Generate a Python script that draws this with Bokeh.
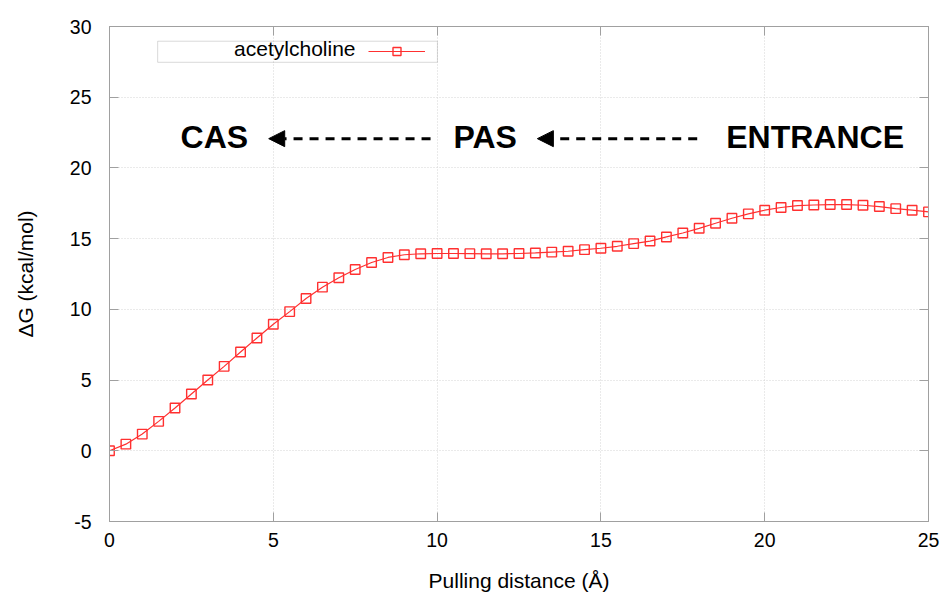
from bokeh.plotting import figure
from bokeh.models import (Range1d, LinearAxis, SingleIntervalTicker, CustomJSTickFormatter,
                          Label, Arrow, NormalHead, BoxAnnotation, Legend, LegendItem)
from bokeh.embed import file_html
from bokeh.resources import INLINE

# ---- data ----
distance = [0, 0.5, 1, 1.5, 2, 2.5, 3, 3.5, 4, 4.5, 5, 5.5, 6, 6.5, 7, 7.5, 8, 8.5, 9, 9.5,
            10, 10.5, 11, 11.5, 12, 12.5, 13, 13.5, 14, 14.5, 15, 15.5, 16, 16.5, 17, 17.5,
            18, 18.5, 19, 19.5, 20, 20.5, 21, 21.5, 22, 22.5, 23, 23.5, 24, 24.5, 25]
dG = [0.00, 0.47, 1.18, 2.08, 3.02, 4.01, 5.00, 5.97, 6.99, 7.98, 8.95, 9.84, 10.77, 11.57,
      12.23, 12.82, 13.31, 13.67, 13.86, 13.93, 13.95, 13.95, 13.94, 13.93, 13.93, 13.95,
      13.99, 14.05, 14.11, 14.22, 14.32, 14.46, 14.65, 14.83, 15.12, 15.40, 15.73, 16.09,
      16.44, 16.75, 17.01, 17.20, 17.34, 17.38, 17.41, 17.41, 17.36, 17.27, 17.12, 17.01, 16.89]
series_name = "acetylcholine"
x_title = "Pulling distance (Å)"
y_title = "ΔG (kcal/mol)"
site_labels = ["CAS", "PAS", "ENTRANCE"]

FONT = "Liberation Sans"
RED = "#ff3030"
AXC = "#a0a0a0"

p = figure(width=945, height=596, output_backend="svg", toolbar_location=None,
           x_range=Range1d(0, 25), y_range=Range1d(-5, 30),
           min_border_left=109, min_border_right=17, min_border_top=26, min_border_bottom=75,
           background_fill_color="white", border_fill_color="white")
p.outline_line_color = AXC

ticker = SingleIntervalTicker(interval=5)
plain = CustomJSTickFormatter(code="return String(tick)")
for ax in (p.xaxis[0], p.yaxis[0]):
    ax.ticker = ticker
    ax.formatter = plain
    ax.axis_line_color = AXC
    ax.major_tick_line_color = AXC
    ax.major_tick_in = 9
    ax.major_tick_out = 0
    ax.minor_tick_line_color = None
    ax.major_label_text_font = FONT
    ax.major_label_text_font_size = "19.5px"
    ax.major_label_text_color = "black"
    ax.axis_label_text_font = FONT
    ax.axis_label_text_font_size = "21px"
    ax.axis_label_text_font_style = "normal"
    ax.axis_label_text_color = "black"

p.xaxis[0].axis_label = x_title
p.xaxis[0].major_label_standoff = 7
p.xaxis[0].axis_label_standoff = 19
p.yaxis[0].axis_label = y_title
p.yaxis[0].major_label_standoff = 14
p.yaxis[0].axis_label_standoff = 30

# mirror ticks
blank = CustomJSTickFormatter(code="return ''")
for loc in ("right", "above"):
    ax = LinearAxis(ticker=SingleIntervalTicker(interval=5), formatter=blank,
                    axis_line_color=AXC, major_tick_line_color=AXC,
                    major_tick_in=9, major_tick_out=0, minor_tick_line_color=None,
                    major_label_standoff=0, major_label_text_font_size="1px")
    p.add_layout(ax, loc)

for g in (p.xgrid[0], p.ygrid[0]):
    g.ticker = ticker
    g.grid_line_color = "#d4d4d4"
    g.grid_line_dash = "1 2"
    g.grid_line_width = 1

# data
line_r = p.line(distance, dG, line_color=RED, line_width=1.2)
pts_r = p.scatter(distance, dG, marker="square", size=9.5, fill_color=None,
                  line_color=RED, line_width=1.4)

# legend (gnuplot style: text then sample, in a box)
p.add_layout(BoxAnnotation(left=1.47, right=10.01, bottom=27.47, top=28.96,
                           fill_color=None, fill_alpha=0, line_color="#808080", line_width=1))
p.add_layout(Label(x=7.51, y=28.45, text=series_name, text_align="right", text_baseline="middle",
                   text_font=FONT, text_font_size="21px", text_color="black"))
leg = Legend(items=[LegendItem(label="", renderers=[line_r, pts_r])],
             location=(259, 460), glyph_width=57, glyph_height=20, padding=0, spacing=0,
             margin=0, label_width=0, label_standoff=0, label_height=20,
             label_text_font_size="1px", border_line_color=None, background_fill_alpha=0)
p.add_layout(leg)

# annotations
for txt, xc in zip(site_labels, [3.2, 11.47, 21.54]):
    p.add_layout(Label(x=xc, y=22.18, text=txt, text_align="center", text_baseline="middle",
                       text_font=FONT, text_font_size="32px", text_font_style="bold",
                       text_color="black"))
for xs, xe in [(9.8, 4.86), (17.94, 13.06)]:
    p.add_layout(Arrow(end=NormalHead(size=16, fill_color="black", line_color="black"),
                       x_start=xs, y_start=22.07, x_end=xe, y_end=22.07,
                       line_color="black", line_width=3, line_dash="9 7"))

open("out.html", "w").write(file_html(p, INLINE))
